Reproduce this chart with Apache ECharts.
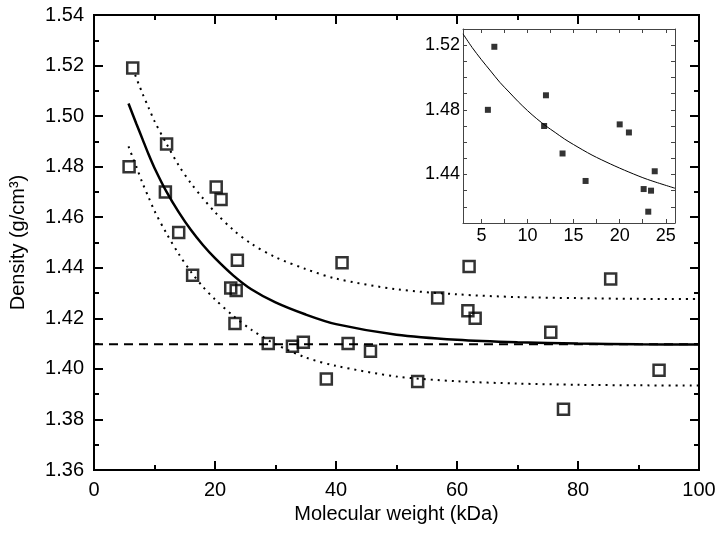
<!DOCTYPE html>
<html>
<head>
<meta charset="utf-8">
<script src="https://cdn.jsdelivr.net/npm/echarts@6/dist/echarts.min.js"></script>
<style>html,body{margin:0;padding:0;background:#fff}#c{width:720px;height:537px}</style>
</head>
<body>
<div id="c"></div>
<script>
// Main scatter (open squares)
var mainX = [5.8, 6.4, 11.8, 12.0, 14.0, 16.3, 20.2, 21.0, 22.6, 23.3, 23.5, 23.7, 28.8, 32.8, 34.6, 38.4, 41.0, 42.0, 45.7, 53.5, 56.8, 62.0, 61.8, 63.0, 75.5, 77.6, 85.4, 93.4];
var mainY = [1.480, 1.519, 1.470, 1.489, 1.454, 1.437, 1.472, 1.467, 1.432, 1.418, 1.431, 1.443, 1.410, 1.409, 1.4105, 1.396, 1.442, 1.410, 1.407, 1.395, 1.428, 1.4405, 1.423, 1.420, 1.4145, 1.384, 1.4356, 1.3995];
// Fit curve (solid)
var fitX = [5.7, 7, 8, 9, 10, 12, 14, 16, 18, 20, 23, 26, 30, 35, 40, 50, 60, 70, 80, 90, 100];
var fitY = [1.505, 1.497, 1.491, 1.485, 1.4795, 1.470, 1.462, 1.455, 1.449, 1.4438, 1.437, 1.4315, 1.4263, 1.4215, 1.4177, 1.4135, 1.4115, 1.4105, 1.4100, 1.4097, 1.4096];
// Upper dotted band
var upX = [6.8, 8, 9, 10, 12, 14, 16, 18, 20, 23, 26, 30, 35, 40, 50, 60, 70, 80, 90, 100];
var upY = [1.5163, 1.509, 1.5035, 1.498, 1.489, 1.4805, 1.4735, 1.4675, 1.462, 1.455, 1.4495, 1.4442, 1.4395, 1.4357, 1.4315, 1.4295, 1.4284, 1.428, 1.4277, 1.4276];
// Lower dotted band
var loX = [5.7, 7, 8, 9, 10, 12, 14, 16, 18, 20, 23, 26, 30, 35, 40, 50, 60, 70, 80, 90, 100];
var loY = [1.488, 1.480, 1.4736, 1.468, 1.4625, 1.4535, 1.4455, 1.4385, 1.4325, 1.4275, 1.421, 1.4155, 1.4098, 1.4045, 1.4012, 1.397, 1.3951, 1.3942, 1.3937, 1.3935, 1.3934];
// Baseline (dashed)
var baseX = [0, 100];
var baseY = [1.4097, 1.4097];
// Inset data (filled squares)
var insX = [5.7, 6.4, 12.0, 11.8, 13.8, 16.3, 20.0, 21.0, 22.6, 23.4, 23.1, 23.8];
var insY = [1.480, 1.519, 1.489, 1.470, 1.453, 1.436, 1.471, 1.466, 1.431, 1.430, 1.417, 1.442];
var insFitX = [3, 4, 5, 6, 7, 8, 9, 10, 11, 12, 13, 14, 15, 17, 19, 21, 23, 26];
var insFitY = [1.527, 1.5185, 1.511, 1.504, 1.497, 1.491, 1.485, 1.4795, 1.4745, 1.470, 1.466, 1.462, 1.4585, 1.452, 1.4465, 1.4415, 1.437, 1.4315];
// Tick positions / labels
var mainXMinor = [10, 30, 50, 70, 90];
var mainYMinor = [1.37, 1.39, 1.41, 1.43, 1.45, 1.47, 1.49, 1.51, 1.53];
var insXLabels = [5, 10, 15, 20, 25];
var insXTicks = [5, 7.5, 10, 12.5, 15, 17.5, 20, 22.5, 25];
var insYLabels = [1.44, 1.48, 1.52];

function pairs(xs, ys) { return xs.map(function (x, i) { return [x, ys[i]]; }); }

var FONT = 'Liberation Sans, Arial, sans-serif';
var chart = echarts.init(document.getElementById('c'));

function mainXAxis(pos, showLabel, minor) {
  var a = {
    type: 'value', gridIndex: 0, position: pos, min: 0, max: 100, interval: 20,
    axisLine: { show: !minor, onZero: false, lineStyle: { color: '#000', width: 2 } },
    axisTick: { show: true, inside: true, length: minor ? 5 : 9, lineStyle: { color: '#000', width: 2 } },
    axisLabel: { show: showLabel, fontFamily: FONT, fontSize: 20, color: '#000', margin: 10 },
    splitLine: { show: false }
  };
  if (minor) a.axisTick.customValues = mainXMinor;
  if (showLabel) {
    a.name = 'Molecular weight (kDa)'; a.nameLocation = 'middle'; a.nameGap = 32;
    a.nameTextStyle = { fontFamily: FONT, fontSize: 20, color: '#000' };
  }
  return a;
}
function mainYAxis(pos, showLabel, minor) {
  var a = {
    type: 'value', gridIndex: 0, position: pos, min: 1.36, max: 1.54, interval: 0.02,
    axisLine: { show: !minor, onZero: false, lineStyle: { color: '#000', width: 2 } },
    axisTick: { show: true, inside: true, length: minor ? 5 : 9, lineStyle: { color: '#000', width: 2 } },
    axisLabel: { show: showLabel, fontFamily: FONT, fontSize: 20, color: '#000', margin: 10,
      formatter: function (v) { return Number(v).toFixed(2); } },
    splitLine: { show: false }
  };
  if (minor) a.axisTick.customValues = mainYMinor;
  if (showLabel) {
    a.name = 'Density (g/cm³)'; a.nameLocation = 'middle'; a.nameGap = 66;
    a.nameTextStyle = { fontFamily: FONT, fontSize: 20, color: '#000' };
  }
  return a;
}
function insXAxis(pos, showLabel) {
  return {
    type: 'value', gridIndex: 1, position: pos, min: 3, max: 26,
    axisLine: { show: true, onZero: false, lineStyle: { color: '#444', width: 1 } },
    axisTick: { show: true, inside: true, length: 4, customValues: insXTicks, lineStyle: { color: '#444', width: 1 } },
    axisLabel: { show: showLabel, customValues: insXLabels, fontFamily: FONT, fontSize: 18, color: '#000', margin: 4 },
    splitLine: { show: false }
  };
}
function insYAxis(pos, showLabel) {
  return {
    type: 'value', gridIndex: 1, position: pos, min: 1.41, max: 1.53, interval: 0.01,
    axisLine: { show: true, onZero: false, lineStyle: { color: '#444', width: 1 } },
    axisTick: { show: true, inside: true, length: 4, lineStyle: { color: '#444', width: 1 } },
    axisLabel: { show: showLabel, customValues: insYLabels, fontFamily: FONT, fontSize: 18, color: '#000', margin: 3,
      formatter: function (v) { return Number(v).toFixed(2); } },
    splitLine: { show: false }
  };
}

chart.setOption({
  animation: false,
  grid: [
    { left: 92, right: 21, top: 15, bottom: 67, show: true, borderColor: '#000', borderWidth: 2, backgroundColor: 'transparent' },
    { left: 463, top: 29, width: 212, height: 194 }
  ],
  xAxis: [mainXAxis('bottom', true, false), mainXAxis('top', false, false),
          insXAxis('bottom', true), insXAxis('top', false),
          mainXAxis('bottom', false, true), mainXAxis('top', false, true)],
  yAxis: [mainYAxis('left', true, false), mainYAxis('right', false, false),
          insYAxis('left', true), insYAxis('right', false),
          mainYAxis('left', false, true), mainYAxis('right', false, true)],
  series: [
    { type: 'line', xAxisIndex: 0, yAxisIndex: 0, data: pairs(baseX, baseY), symbol: 'none',
      lineStyle: { color: '#000', width: 2, type: [9, 6] } },
    { type: 'line', xAxisIndex: 0, yAxisIndex: 0, data: pairs(upX, upY), symbol: 'none', smooth: 0.3,
      lineStyle: { color: '#000', width: 2, type: [2, 5] } },
    { type: 'line', xAxisIndex: 0, yAxisIndex: 0, data: pairs(loX, loY), symbol: 'none', smooth: 0.3,
      lineStyle: { color: '#000', width: 2, type: [2, 5] } },
    { type: 'line', xAxisIndex: 0, yAxisIndex: 0, data: pairs(fitX, fitY), symbol: 'none', smooth: 0.3,
      lineStyle: { color: '#000', width: 2.5 } },
    { type: 'scatter', xAxisIndex: 0, yAxisIndex: 0, data: pairs(mainX, mainY), symbol: 'rect', symbolSize: 11,
      itemStyle: { color: 'rgba(255,255,255,0)', borderColor: '#000', borderWidth: 2.5 }, z: 3 },
    { type: 'line', xAxisIndex: 2, yAxisIndex: 2, data: pairs(insFitX, insFitY), symbol: 'none', smooth: 0.3,
      lineStyle: { color: '#000', width: 1 } },
    { type: 'scatter', xAxisIndex: 2, yAxisIndex: 2, data: pairs(insX, insY), symbol: 'rect', symbolSize: 6,
      itemStyle: { color: '#000' }, z: 3 }
  ]
});
</script>
</body>
</html>
